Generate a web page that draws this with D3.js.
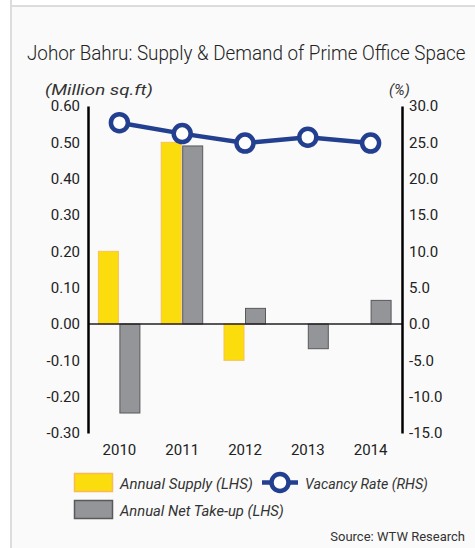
<!DOCTYPE html>
<html><head><meta charset="utf-8">
<script src="https://cdn.jsdelivr.net/npm/d3@7"></script>
<style>body{margin:0;background:#fff}svg{display:block}</style>
</head><body>
<svg id="c" width="475" height="548"></svg>
<script>
const years = ["2010","2011","2012","2013","2014"];
const annualSupply = [0.20, 0.50, -0.10, 0.00, 0.00];
const netTakeUp = [-0.245, 0.49, 0.043, -0.068, 0.065];
const vacancyRate = [27.7, 26.2, 24.9, 25.7, 24.9];
const leftTicks = [0.6,0.5,0.4,0.3,0.2,0.1,0,-0.1,-0.2,-0.3];
const rightTicks = [30,25,20,15,10,5,0,-5,-10,-15];

const svg = d3.select("#c");
const F = "Roboto, 'Open Sans', sans-serif";
// frame
svg.append("rect").attr("x",12).attr("y",7).attr("width",463).attr("height",541).attr("fill","#fafafa");
svg.append("line").attr("x1",11).attr("x2",11).attr("y1",0).attr("y2",548).attr("stroke","#dcdcdc").attr("stroke-width",2);
svg.append("line").attr("x1",12).attr("x2",475).attr("y1",6).attr("y2",6).attr("stroke","#dcdcdc").attr("stroke-width",2);

// fit text horizontally by scaling
function fitText(sel, x0, y0, w){
  const n = sel.node().getComputedTextLength();
  sel.attr("x",0).attr("y",0).attr("transform",`translate(${x0},${y0}) scale(${w/n},1)`);
}
const title = svg.append("text").attr("font-family",F).attr("font-weight",300).attr("font-size",20).attr("fill","#222")
  .text("Johor Bahru: Supply & Demand of Prime Office Space");
fitText(title, 27, 60, 439);

const L = 88, R = 402, T = 106, B = 433;
const x = d3.scaleBand().domain(years).range([L,R]).padding(0);
const yL = d3.scaleLinear().domain([-0.3,0.6]).range([B,T]);
const yR = d3.scaleLinear().domain([-15,30]).range([B,T]);
const bw = 21;
const hy = f => d => f(d).replace("\u2212","-");

const u1 = svg.append("text").attr("font-family",F).attr("font-style","italic").attr("font-size",15).attr("fill","#333").text("(Million sq.ft)");
fitText(u1, 45, 95, 108);
svg.append("text").attr("x",389).attr("y",95).attr("font-family",F).attr("font-style","italic").attr("font-size",15).attr("fill","#333").text("(%)");

// bars
svg.append("g").selectAll("rect").data(years).join("rect")
  .attr("x",d=>x(d)+x.bandwidth()/2-bw).attr("width",bw-1)
  .attr("y",(d,i)=>yL(Math.max(0,annualSupply[i]))).attr("height",(d,i)=>Math.abs(yL(annualSupply[i])-yL(0)))
  .attr("fill","#fbdc0d").attr("stroke","#f8c15a").attr("stroke-width",1)
  .attr("display",(d,i)=>annualSupply[i]===0?"none":null);
svg.append("g").selectAll("rect").data(years).join("rect")
  .attr("x",d=>x(d)+x.bandwidth()/2+0.5).attr("width",bw-1)
  .attr("y",(d,i)=>yL(Math.max(0,netTakeUp[i]))).attr("height",(d,i)=>Math.abs(yL(netTakeUp[i])-yL(0)))
  .attr("fill","#939598").attr("stroke","#58595b").attr("stroke-width",1);

// zero line
svg.append("line").attr("x1",L).attr("x2",R).attr("y1",yL(0)).attr("y2",yL(0)).attr("stroke","#231f20").attr("stroke-width",1.5);

// axes
const axL = svg.append("g").attr("transform",`translate(${L},0)`).call(d3.axisLeft(yL).tickValues(leftTicks).tickFormat(hy(d3.format(".2f"))).tickSize(0).tickPadding(8));
const axR = svg.append("g").attr("transform",`translate(${R},0)`).call(d3.axisRight(yR).tickValues(rightTicks).tickFormat(hy(d3.format(".1f"))).tickSize(0).tickPadding(7));
[axL,axR].forEach(a=>{
  a.select(".domain").attr("stroke","#000").attr("stroke-width",2.5);
  a.selectAll("text").attr("font-family",F).attr("font-size",15).attr("fill","#222");
});
svg.append("g").attr("transform",`translate(0,${B})`).call(d3.axisBottom(x).tickSize(0).tickPadding(11))
  .call(g=>g.select(".domain").remove())
  .selectAll("text").attr("font-family",F).attr("font-size",15).attr("fill","#222");

// line
const cx = d=>x(d)+x.bandwidth()/2;
svg.append("path").datum(years).attr("fill","none").attr("stroke","#233f8f").attr("stroke-width",4.5)
  .attr("d",d3.line().x(cx).y((d,i)=>yR(vacancyRate[i])));
svg.append("g").selectAll("circle").data(years).join("circle")
  .attr("cx",cx).attr("cy",(d,i)=>yR(vacancyRate[i])).attr("r",8.5)
  .attr("fill","#fff").attr("stroke","#233f8f").attr("stroke-width",4.5);

// legend
const lg = svg.append("g");
lg.append("rect").attr("x",74.5).attr("y",473.5).attr("width",38).attr("height",18).attr("fill","#fbdc0d").attr("stroke","#f8b95a").attr("stroke-width",1.5);
lg.append("rect").attr("x",74.5).attr("y",500.5).attr("width",38).attr("height",18).attr("fill","#939598").attr("stroke","#58595b").attr("stroke-width",1.5);
lg.append("line").attr("x1",262).attr("x2",298).attr("y1",482.5).attr("y2",482.5).attr("stroke","#233f8f").attr("stroke-width",4.5);
lg.append("circle").attr("cx",280).attr("cy",482.5).attr("r",8.5).attr("fill","#fff").attr("stroke","#233f8f").attr("stroke-width",4.5);
const lt = [["Annual Supply (LHS)",120,489,133],["Vacancy Rate (RHS)",305,489,123],["Annual Net Take-up (LHS)",120,516,164]];
lt.forEach(([t,xx,yy,w])=>{
  const s = lg.append("text").attr("font-family",F).attr("font-style","italic").attr("font-size",15).attr("fill","#333").text(t);
  fitText(s, xx, yy, w);
});
svg.append("text").attr("x",465).attr("y",541).attr("text-anchor","end").attr("font-family",F).attr("font-size",13).attr("fill","#333").text("Source: WTW Research");
</script>
</body></html>
